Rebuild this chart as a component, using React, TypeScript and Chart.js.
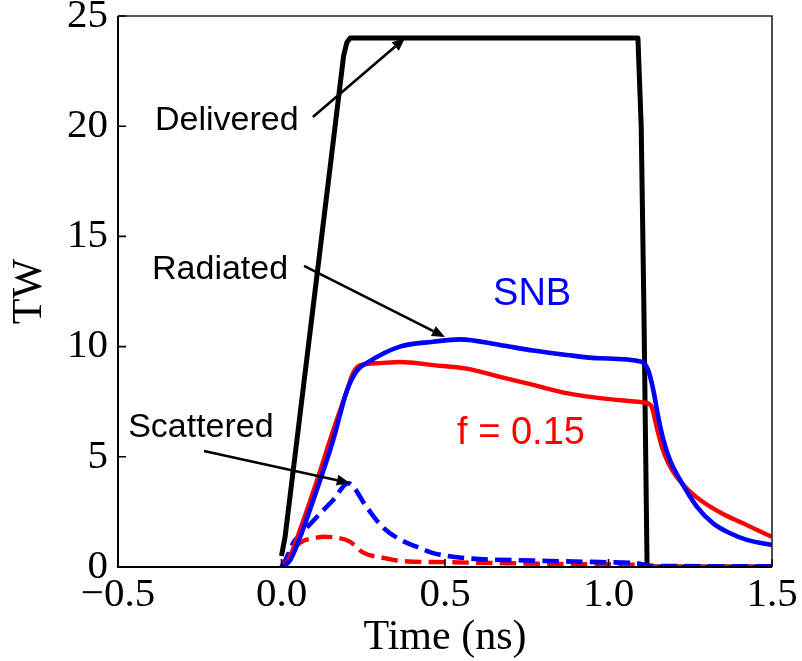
import React, { useEffect, useRef } from "react";
import { Chart, registerables } from "chart.js";

Chart.register(...registerables);

// ---- data (time in ns, power in TW) ----
const deliveredT = [0.0, 0.011, 0.05, 0.1, 0.15, 0.19, 0.2, 0.21, 0.5, 1.0, 1.09, 1.1, 1.108, 1.118, 1.2, 1.5];
const deliveredP = [0.5, 1.37, 6.1, 12.2, 18.3, 23.2, 23.8, 24.0, 24.0, 24.0, 24.0, 20.0, 12.0, 0.0, 0.0, 0.0];

const radRedT = [0.0, 0.02, 0.057, 0.108, 0.158, 0.2, 0.219, 0.24, 0.3, 0.362, 0.464, 0.566, 0.668, 0.77, 0.872, 0.974, 1.1, 1.115, 1.132, 1.147, 1.163, 1.183, 1.208, 1.244, 1.295, 1.346, 1.423, 1.5];
const radRedP = [0.0, 0.3, 1.7, 3.9, 6.2, 8.0, 8.8, 9.15, 9.25, 9.3, 9.16, 9.0, 8.63, 8.26, 7.89, 7.66, 7.48, 7.45, 7.27, 6.37, 5.46, 4.7, 4.1, 3.49, 2.89, 2.44, 1.9, 1.37];

const radBlueT = [0.0, 0.026, 0.057, 0.108, 0.158, 0.2, 0.23, 0.26, 0.362, 0.464, 0.546, 0.668, 0.77, 0.872, 0.974, 1.101, 1.121, 1.137, 1.152, 1.168, 1.188, 1.219, 1.27, 1.32, 1.372, 1.423, 1.5];
const radBlueP = [0.0, 0.3, 1.36, 3.5, 5.76, 8.0, 8.9, 9.25, 10.0, 10.22, 10.33, 10.07, 9.82, 9.62, 9.47, 9.31, 8.94, 8.03, 6.82, 5.76, 4.85, 3.95, 2.74, 1.98, 1.53, 1.23, 1.0];

const scatBlueT = [0.0, 0.015, 0.036, 0.057, 0.108, 0.158, 0.204, 0.26, 0.31, 0.362, 0.413, 0.464, 0.566, 0.77, 0.974, 1.096, 1.13, 1.5];
const scatBlueP = [0.0, 0.4, 1.1, 1.45, 2.27, 3.04, 3.8, 2.72, 1.8, 1.25, 0.92, 0.63, 0.4, 0.29, 0.22, 0.15, 0.05, 0.03];

const scatRedT = [0.0, 0.02, 0.057, 0.108, 0.13, 0.158, 0.209, 0.25, 0.31, 0.362, 0.5, 0.7, 0.9, 1.1, 1.13, 1.5];
const scatRedP = [0.0, 0.5, 1.1, 1.33, 1.37, 1.35, 1.15, 0.65, 0.42, 0.28, 0.22, 0.17, 0.13, 0.1, 0.02, 0.01];

const xTicks = [-0.5, 0.0, 0.5, 1.0, 1.5];
const yTicks = [0, 5, 10, 15, 20, 25];

const xTitle = "Time (ns)";
const yTitle = "TW";

// annotation texts (anchored at data coordinates: left edge, baseline)
const labelTexts = ["Delivered", "Radiated", "Scattered", "SNB", "f = 0.15"];
const labelT = [-0.387, -0.396, -0.469, 0.647, 0.537];
const labelP = [19.83, 13.07, 5.9, 11.89, 5.58];
const labelColors = ["#000000", "#000000", "#000000", "#0000ff", "#ff0000"];
const labelSizes = [34, 34, 34, 38, 38];

// arrows (from -> to, data coordinates)
const arrowFromT = [0.096, 0.069, -0.237];
const arrowFromP = [20.42, 13.66, 5.26];
const arrowToT = [0.378, 0.5, 0.209];
const arrowToP = [24.0, 10.44, 3.81];

const pts = (t: number[], p: number[]) => t.map((v, i) => ({ x: v, y: p[i] }));

const SERIF = '"Liberation Serif", "Times New Roman", serif';
const SANS = '"Liberation Sans", Arial, Helvetica, sans-serif';

const framePlugin = {
  id: "frameAndTicks",
  afterDatasetsDraw(chart: any) {
    const { ctx, chartArea } = chart;
    const { left, right, top, bottom } = chartArea;
    const xs = chart.scales.x;
    const ys = chart.scales.y;
    ctx.save();
    ctx.strokeStyle = "#222";
    ctx.lineWidth = 1.6;
    ctx.beginPath();
    ctx.moveTo(left, top);
    ctx.lineTo(right, top);
    ctx.lineTo(right, bottom);
    ctx.stroke();
    ctx.strokeStyle = "#000";
    ctx.lineWidth = 2;
    ctx.beginPath();
    ctx.moveTo(left, top);
    ctx.lineTo(left, bottom);
    ctx.lineTo(right, bottom);
    ctx.stroke();
    ctx.lineWidth = 1.6;
    ctx.beginPath();
    xTicks.forEach((v) => {
      const px = xs.getPixelForValue(v);
      ctx.moveTo(px, bottom);
      ctx.lineTo(px, bottom - 8);
    });
    yTicks.forEach((v) => {
      const py = ys.getPixelForValue(v);
      ctx.moveTo(left, py);
      ctx.lineTo(left + 8, py);
    });
    ctx.stroke();
    ctx.restore();
  },
};

const annotationPlugin = {
  id: "annotations",
  afterDraw(chart: any) {
    const { ctx } = chart;
    const xs = chart.scales.x;
    const ys = chart.scales.y;
    ctx.save();
    arrowFromT.forEach((_, i) => {
      const x0 = xs.getPixelForValue(arrowFromT[i]);
      const y0 = ys.getPixelForValue(arrowFromP[i]);
      const x1 = xs.getPixelForValue(arrowToT[i]);
      const y1 = ys.getPixelForValue(arrowToP[i]);
      const ang = Math.atan2(y1 - y0, x1 - x0);
      const hl = 13;
      const hw = 5.5;
      const bx = x1 - hl * Math.cos(ang);
      const by = y1 - hl * Math.sin(ang);
      ctx.strokeStyle = "#000";
      ctx.lineWidth = 2.6;
      ctx.beginPath();
      ctx.moveTo(x0, y0);
      ctx.lineTo(bx, by);
      ctx.stroke();
      ctx.fillStyle = "#000";
      ctx.beginPath();
      ctx.moveTo(x1, y1);
      ctx.lineTo(bx + hw * Math.sin(ang), by - hw * Math.cos(ang));
      ctx.lineTo(bx - hw * Math.sin(ang), by + hw * Math.cos(ang));
      ctx.closePath();
      ctx.fill();
    });
    ctx.textAlign = "left";
    ctx.textBaseline = "alphabetic";
    labelTexts.forEach((txt, i) => {
      ctx.font = `${labelSizes[i]}px ${SANS}`;
      ctx.fillStyle = labelColors[i];
      ctx.fillText(txt, xs.getPixelForValue(labelT[i]), ys.getPixelForValue(labelP[i]));
    });
    ctx.restore();
  },
};

export default function App() {
  const ref = useRef<HTMLCanvasElement | null>(null);
  useEffect(() => {
    if (!ref.current) return;
    const chart = new Chart(ref.current, {
      type: "line",
      data: {
        datasets: [
          {
            label: "SNB radiated",
            data: pts(radBlueT, radBlueP),
            borderColor: "#0000ff",
            borderWidth: 4.6,
            pointRadius: 0,
            cubicInterpolationMode: "monotone",
          },
          {
            label: "f=0.15 radiated",
            data: pts(radRedT, radRedP),
            borderColor: "#ff0000",
            borderWidth: 4.4,
            pointRadius: 0,
            cubicInterpolationMode: "monotone",
          },
          {
            label: "SNB scattered",
            data: pts(scatBlueT, scatBlueP),
            borderColor: "#0000ff",
            borderWidth: 4.6,
            borderDash: [16.5, 7.2],
            pointRadius: 0,
            cubicInterpolationMode: "monotone",
          },
          {
            label: "f=0.15 scattered",
            data: pts(scatRedT, scatRedP),
            borderColor: "#ff0000",
            borderWidth: 4.4,
            borderDash: [16.5, 7.2],
            pointRadius: 0,
            cubicInterpolationMode: "monotone",
          },
          {
            label: "Delivered",
            data: pts(deliveredT, deliveredP),
            borderColor: "#000000",
            borderWidth: 5,
            pointRadius: 0,
            tension: 0,
            borderJoinStyle: "round",
          },
        ],
      },
      options: {
        animation: false,
        responsive: false,
        devicePixelRatio: 1,
        parsing: false,
        normalized: true,
        layout: { padding: { top: 16, right: 30, left: 0, bottom: 0 } },
        plugins: {
          legend: { display: false },
          tooltip: { enabled: false },
          title: { display: false },
        },
        scales: {
          x: {
            type: "linear",
            min: -0.5,
            max: 1.5,
            afterBuildTicks: (s: any) => {
              s.ticks = xTicks.map((v) => ({ value: v }));
            },
            afterFit: (s: any) => {
              s.height = 94;
              s.paddingLeft = 0;
              s.paddingRight = 0;
            },
            grid: { display: false, drawTicks: false },
            border: { display: false },
            ticks: {
              autoSkip: false,
              maxRotation: 0,
              padding: 4,
              color: "#000",
              font: { family: SERIF, size: 41 },
              callback: (v: any) => (v < 0 ? "\u2212" : "") + Math.abs(Number(v)).toFixed(1),
            },
            title: {
              display: true,
              text: xTitle,
              color: "#000",
              font: { family: SERIF, size: 42 },
              padding: { top: 0, bottom: -2 },
            },
          },
          y: {
            type: "linear",
            min: 0,
            max: 25,
            afterBuildTicks: (s: any) => {
              s.ticks = yTicks.map((v) => ({ value: v }));
            },
            afterFit: (s: any) => {
              s.width = 118;
              s.paddingTop = 0;
              s.paddingBottom = 0;
            },
            grid: { display: false, drawTicks: false },
            border: { display: false },
            ticks: {
              autoSkip: false,
              padding: 10,
              color: "#000",
              font: { family: SERIF, size: 41 },
              callback: (v: any) => String(v),
            },
            title: {
              display: true,
              text: yTitle,
              color: "#000",
              font: { family: SERIF, size: 42 },
              padding: { top: 5, bottom: 0 },
            },
          },
        },
      },
      plugins: [framePlugin, annotationPlugin],
    } as any);
    return () => chart.destroy();
  }, []);

  return (
    <div style={{ position: "absolute", left: 0, top: 0, width: 802, height: 661, background: "#fff" }}>
      <canvas ref={ref} width={802} height={661} style={{ display: "block", width: 802, height: 661 }} />
    </div>
  );
}
